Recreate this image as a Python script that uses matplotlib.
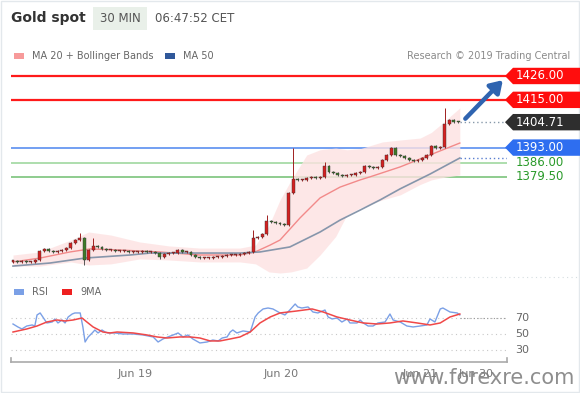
import matplotlib

matplotlib.use("Agg")
import matplotlib.pyplot as plt
import matplotlib.transforms as mtransforms
from matplotlib.patches import Polygon, Rectangle, FancyBboxPatch

# 30-min closes, one per bar (bar index = position on the x axis)
closes = [
    1340.7, 1340.3, 1340.7, 1340.3, 1340.3, 1341.2, 1345.4, 1346.3, 1345.4, 1344.9,
    1345.4, 1345.8, 1346.7, 1349.0, 1350.4, 1351.3, 1341.2, 1345.8, 1347.7, 1347.2,
    1346.3, 1345.8, 1345.8, 1345.4, 1345.4, 1345.4, 1344.9, 1344.9, 1344.9, 1345.4,
    1344.9, 1344.9, 1344.4, 1342.6, 1344.0, 1344.4, 1344.4, 1345.8, 1344.9, 1344.9,
    1343.5, 1342.6, 1342.1, 1342.1, 1342.1, 1342.6, 1342.6, 1343.0, 1343.5, 1343.5,
    1343.5, 1344.0, 1344.4, 1344.9, 1351.3, 1351.8, 1353.2, 1359.2, 1358.7, 1358.3,
    1357.8, 1357.3, 1372.1, 1378.5, 1378.1, 1378.1, 1379.0, 1379.5, 1379.0, 1379.5,
    1384.5, 1381.8, 1381.3, 1380.4, 1379.9, 1380.4, 1380.4, 1381.3, 1381.8, 1384.5,
    1384.1, 1383.6, 1384.1, 1387.3, 1389.6, 1392.8, 1389.6, 1389.1, 1388.2, 1387.3,
    1386.8, 1387.3, 1388.2, 1389.6, 1393.7, 1392.8, 1393.3, 1403.9, 1405.7, 1404.8,
    1404.71,
]
first_open = 1340.5
# bars whose wick sticks out clearly
spike_high = {15: 1353.6, 18: 1351.3, 54: 1355.0, 57: 1362.0, 63: 1393.0, 70: 1386.4, 97: 1411.3}
spike_low = {16: 1338.9, 33: 1341.5}

ma20_x = [0, 6.1, 12.8, 17.3, 24, 33, 42, 51, 54.4, 57.8, 60, 64.5, 69, 73.5, 78, 80.2, 87, 93.7, 100.4]
ma20 = [1340.3, 1342.1, 1344.9, 1346.3, 1345.8, 1344.9, 1343.5, 1343.5, 1344.9, 1348.1,
        1350.4, 1360.6, 1369.8, 1374.8, 1378.1, 1379.5, 1384.1, 1389.6, 1395.1]

ma50_x = [0, 8.3, 16.2, 26.3, 30.8, 42, 51, 55.5, 62.2, 69, 73.5, 78, 82.5, 87, 93.7, 100.4]
ma50 = [1338.4, 1339.8, 1342.1, 1343.5, 1344.4, 1344.4, 1344.4, 1344.9, 1347.2, 1354.1,
        1359.6, 1364.2, 1368.9, 1374.0, 1380.8, 1388.2]

band_x = [0, 6, 13, 17, 22, 28.5, 35, 42, 51, 54.5, 57.5, 60, 62.5, 66, 69, 72.5, 75, 78,
          83, 87, 91.5, 94, 96, 100.4]
band_up = [1343.5, 1344.9, 1350.4, 1354.1, 1352.7, 1349.5, 1347.7, 1346.7, 1346.7, 1348.1,
           1357.0, 1368.9, 1378.0, 1389.6, 1392.0, 1392.8, 1392.0, 1392.5, 1395.6, 1396.5,
           1397.4, 1400.0, 1403.4, 1411.3]
band_lo = [1338.4, 1338.4, 1340.3, 1338.9, 1339.4, 1341.7, 1341.2, 1340.3, 1340.3, 1339.4,
           1335.7, 1335.2, 1335.7, 1337.5, 1343.5, 1352.0, 1361.9, 1365.2, 1368.9, 1371.2,
           1376.0, 1378.1, 1379.0, 1380.4]

rsi_x = [0, 1.1, 2, 3.1, 4.3, 4.9, 5.4, 6.1, 6.7, 7.6, 8.8, 9.4, 10.1, 11, 11.7, 12.4, 13.3,
         13.9, 15.1, 15.7, 16.2, 16.9, 17.8, 18.4, 19.1, 20, 20.7, 21.3, 22.9, 24.7, 27, 29.2,
         31.5, 32.6, 33.7, 34.8, 36, 37.1, 38.2, 39.3, 40.4, 42, 43.6, 44.9, 46.1, 47, 48.1,
         48.8, 49.4, 50.3, 51.7, 53.3, 54.4, 55.1, 56.2, 57.3, 58.4, 60, 61.1, 62.2, 63.4, 64,
         64.9, 66.3, 67.4, 68.5, 70.1, 70.8, 71.7, 72.8, 73.9, 75.1, 75.7, 77.3, 78, 78.7,
         79.8, 80.9, 82, 83.6, 84.7, 85.4, 87, 88.5, 89.9, 91.5, 93, 93.7, 94.8, 96, 96.6,
         98.2, 99.8, 100.4]
rsi = [62.5, 58.8, 56.3, 60, 61.3, 60, 73.8, 76.3, 71.3, 63.8, 65, 68.8, 63.8, 67.5, 63.8,
       71.3, 75, 76.3, 76.3, 58.8, 40, 46.3, 51.3, 55, 51.3, 55, 52.5, 51.3, 51.3, 50, 50,
       48.8, 46.3, 40, 43.8, 46.3, 48.8, 51.3, 46.3, 48.8, 43.8, 38.8, 40, 42.5, 41.3, 45,
       46.3, 52.5, 55, 51.3, 53.8, 52.5, 71.3, 76.3, 81.3, 82.5, 81.3, 76.3, 73.8, 80, 87.5,
       83.8, 82.5, 83.8, 77.5, 76.3, 80, 71.3, 68.8, 70, 65, 68.8, 63.8, 63.8, 67.5, 63.8,
       60, 60, 63.8, 65, 75, 67.5, 65, 60, 58.8, 60, 61.3, 68.8, 65, 81.3, 82.5, 77.5, 76.3,
       73.8]

ma9_x = [0, 3.1, 5.4, 7.6, 9.9, 11.7, 13.5, 15.5, 16.6, 18, 20.2, 21.8, 23.4, 27, 30.1,
         32.4, 34.6, 37.5, 39.8, 42, 44.3, 46.5, 48.8, 51, 53.3, 55.5, 57.8, 60, 63.8, 67.2,
         69.7, 72.8, 75.7, 78.7, 81.8, 84.7, 87.6, 90.8, 93.7, 96, 98.2, 100.4]
ma9 = [52.5, 56.3, 60, 65, 67.5, 66.3, 67.5, 70, 65, 58.8, 52.5, 51.3, 52.5, 51.3, 48.8,
       46.3, 45, 46.3, 46.3, 45, 41.3, 41.3, 43.8, 46.3, 52.5, 63.8, 71.3, 76.3, 78.8, 81.3,
       77.5, 71.3, 67.5, 63.8, 62.5, 63.8, 66.3, 63.8, 61.3, 63.8, 71.3, 75]

day_ticks = [27.4, 60.2, 91.5, 104.0]
day_labels = ["Jun 19", "Jun 20", "Jun 21", "Jun 30"]

levels = [1426.00, 1415.00, 1393.00, 1386.00, 1379.50]
level_colors = ["#ff1a1a", "#ff1a1a", "#5a8ff0", "#9fd89f", "#7cc47c"]
last_price = closes[-1]

W, H = 580, 393
fig = plt.figure(figsize=(W / 100, H / 100), dpi=100)
fig.patch.set_facecolor("white")
fig.add_artist(Rectangle((0.002, 0.002), 0.996, 0.996, transform=fig.transFigure,
                         fill=False, edgecolor="#e3e8ec", lw=1))


def fx(px):
    return px / W


def fy(py):
    return 1 - py / H


ax = fig.add_axes([fx(11), fy(278), fx(507) - fx(11), fy(66) - fy(278)])
rx = fig.add_axes([fx(11), fy(362), fx(507) - fx(11), fy(298) - fy(362)])
for a in (ax, rx):
    a.set_xlim(-0.45, 111.0)
    for s in a.spines.values():
        s.set_visible(False)
    a.set_xticks([])
    a.set_yticks([])
ax.set_ylim(1332.9, 1430.6)
rx.set_ylim(15, 95)

# levels
for lv, c in zip(levels, level_colors):
    ax.axhline(lv, color=c, lw=1.6 if c == "#ff1a1a" else 1.2, zorder=1)

# bollinger + moving averages
ax.fill_between(band_x, band_lo, band_up, color="#fde2e2", alpha=0.8, lw=0, zorder=2)
ax.plot(ma20_x, ma20, color="#f28a8a", lw=1.0, zorder=3)
ax.plot(ma50_x, ma50, color="#8796ab", lw=1.2, zorder=3)

# candles
opens = [first_open] + closes[:-1]
for i, (o, c) in enumerate(zip(opens, closes)):
    up = c >= o
    col = "#d42121" if up else "#3f7a2a"
    hi = spike_high.get(i, max(o, c) + 0.5)
    lo = spike_low.get(i, min(o, c) - 0.5)
    ax.vlines(i, lo, hi, color="#555555" if not up else "#a02020", lw=0.7, zorder=4)
    body = max(abs(c - o), 0.6)
    ax.bar(i, body, bottom=min(o, c), width=0.66, color=col, edgecolor="#333333",
           linewidth=0.3, zorder=5)

ax.plot([100.4, 111], [last_price, last_price], color="#8899aa", lw=1, ls=(0, (1, 2)), zorder=3)
ax.plot([100.4, 111], [ma50[-1], ma50[-1]], color="#5a7fd0", lw=1, ls=(0, (1, 2)), zorder=3)

# target arrow
ax.annotate("", xy=(110.5, 1425.0), xytext=(101.2, 1405.4),
            arrowprops=dict(arrowstyle="-|>,head_length=0.7,head_width=0.45",
                            color="#2f64b0", lw=3.2), zorder=6, annotation_clip=False)

# price tags on the right
bt = mtransforms.blended_transform_factory(fig.transFigure, ax.transData)
half = 8.2 / 2.17
tags = [(1426.00, "#ff0d0d", "white"), (1415.00, "#ff0d0d", "white"),
        (last_price, "#2e2e2e", "white"), (1393.00, "#2e6ef0", "white"),
        (1386.00, None, "#2a9a2a"), (1379.50, None, "#2a9a2a")]
for val, bg, tc in tags:
    if bg is not None:
        poly = Polygon([(fx(505), val), (fx(513), val + half), (1.0, val + half),
                        (1.0, val - half), (fx(513), val - half)],
                       closed=True, transform=bt, facecolor=bg, edgecolor="none",
                       clip_on=False)
        fig.add_artist(poly)
    fig.text(fx(516), 0, f"{val:.2f}", transform=bt, color=tc, fontsize=8.5,
             va="center", ha="left").set_y(val)

# RSI panel
for lv in (70, 50, 30):
    rx.axhline(lv, color="#c8c8c8", lw=0.8, ls=(0, (1, 3)))
rx.plot([100.4, 111], [70, 70], color="#999999", lw=0.8, ls=(0, (1, 2)))
rx.plot(rsi_x, rsi, color="#7ba0e6", lw=1.0, zorder=3)
rx.plot(ma9_x, ma9, color="#f04848", lw=1.1, zorder=4)
for lv in (70, 50, 30):
    fig.text(fx(515), 0, str(lv), transform=mtransforms.blended_transform_factory(
        fig.transFigure, rx.transData), fontsize=8, color="#666666", va="center").set_y(lv)

# bottom axis
fig.add_artist(plt.Line2D([fx(11), fx(507)], [fy(362), fy(362)], color="#aaaaaa", lw=1.2))
fig.add_artist(plt.Line2D([fx(11), fx(11)], [fy(362), fy(358)], color="#aaaaaa", lw=1.2))
fig.add_artist(plt.Line2D([fx(507), fx(507)], [fy(362), fy(358)], color="#aaaaaa", lw=1.2))
tt = mtransforms.blended_transform_factory(rx.transData, fig.transFigure)
for pos, lab in zip(day_ticks, day_labels):
    fig.text(pos, fy(374), lab, transform=tt, ha="center", va="center",
             fontsize=8, color="#777777")

# separator between panels
fig.add_artist(plt.Line2D([fx(11), fx(577)], [fy(277), fy(277)], color="#d5dde0",
                          lw=0.8, ls=(0, (1, 3))))

# header
fig.text(fx(11), fy(18), "Gold spot", fontsize=10, fontweight="bold", color="#333333",
         va="center")
fig.add_artist(FancyBboxPatch((fx(93), fy(30)), fx(54), fy(7) - fy(30),
                              boxstyle="square,pad=0", transform=fig.transFigure,
                              facecolor="#e9f0e9", edgecolor="none"))
fig.text(fx(120), fy(18), "30 MIN", fontsize=8.5, color="#555555", va="center", ha="center")
fig.text(fx(155), fy(18), "06:47:52 CET", fontsize=8.5, color="#555555", va="center")

# legends
fig.add_artist(Rectangle((fx(14), fy(59)), fx(10), fy(53) - fy(59),
                         transform=fig.transFigure, facecolor="#f79a9a", edgecolor="none"))
fig.text(fx(32), fy(56), "MA 20 + Bollinger Bands", fontsize=7, color="#666666", va="center")
fig.add_artist(Rectangle((fx(165), fy(59)), fx(10), fy(53) - fy(59),
                         transform=fig.transFigure, facecolor="#30589a", edgecolor="none"))
fig.text(fx(183), fy(56), "MA 50", fontsize=7, color="#666666", va="center")
fig.text(fx(570), fy(56), "Research \u00a9 2019 Trading Central", fontsize=7,
         color="#8a8a8a", va="center", ha="right")

fig.add_artist(Rectangle((fx(14), fy(295)), fx(10), fy(289) - fy(295),
                         transform=fig.transFigure, facecolor="#7ba0e6", edgecolor="none"))
fig.text(fx(32), fy(292), "RSI", fontsize=7, color="#666666", va="center")
fig.add_artist(Rectangle((fx(62), fy(295)), fx(10), fy(289) - fy(295),
                         transform=fig.transFigure, facecolor="#ee2020", edgecolor="none"))
fig.text(fx(80), fy(292), "9MA", fontsize=7, color="#666666", va="center")

# watermark (sits over the last date labels, as in the source)
fig.text(fx(575), fy(378), "www.forexre.com", fontsize=15, color="#7a7a7a", alpha=0.85,
         ha="right", va="center")

fig.savefig("out.png", dpi=100)
